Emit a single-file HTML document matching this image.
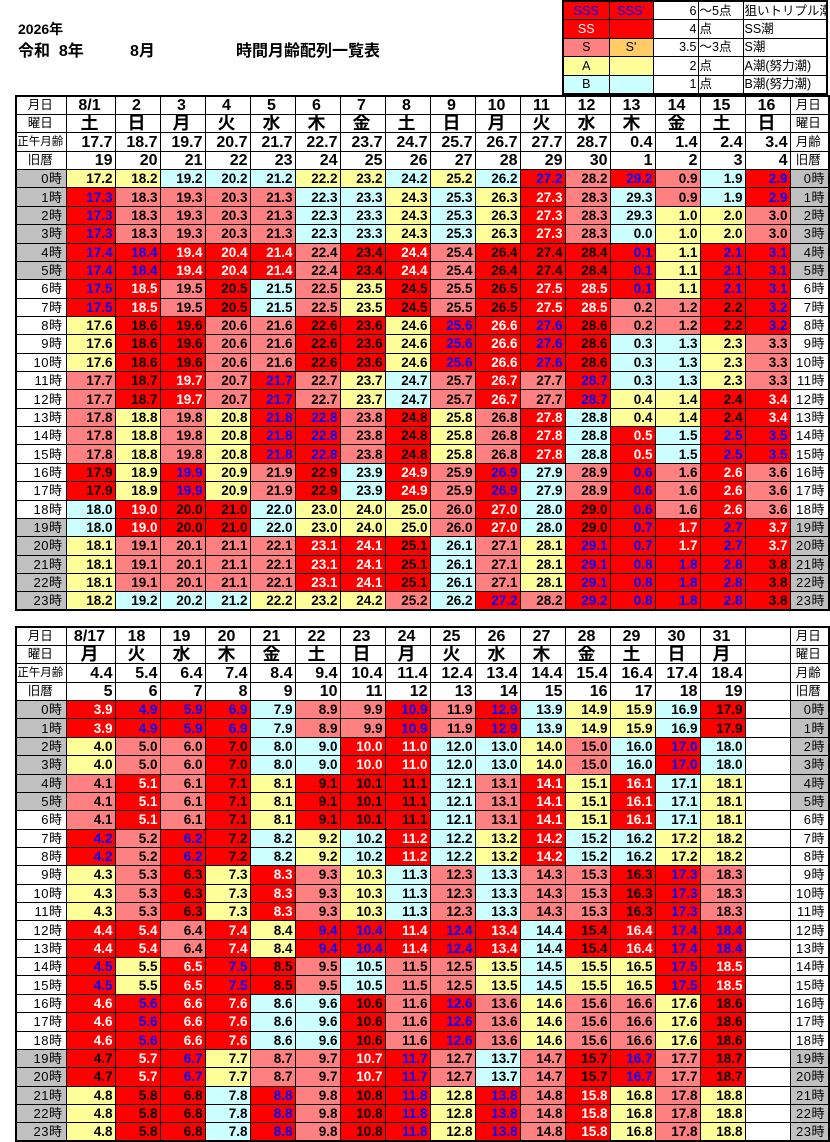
<!DOCTYPE html>
<html><head><meta charset="utf-8"><style>
body{margin:0;width:830px;height:1142px;background:#fff;position:relative;font-family:"Liberation Sans","Noto Sans CJK JP",sans-serif;overflow:hidden}
.tt{position:absolute;font-weight:bold;font-size:15px;color:#000;white-space:pre}
table{position:absolute;border-collapse:collapse;table-layout:fixed}
.t{left:15px;width:813px;border:2px solid #000}
.t td{border:1px solid #000;padding:0 2px 0 0;text-align:right;font-weight:bold;font-size:13.5px;line-height:15px;height:17px;overflow:hidden;white-space:nowrap}
.t tr{height:18.36px}
.t td.l{font-weight:normal;font-size:13px;text-align:right;padding-right:3px;letter-spacing:0.5px}
.t td.h{text-align:center;font-size:12.5px;font-weight:normal}
.t tr.dd td:not(.l):not(.h){text-align:center;font-size:16px}
.t tr.ww td:not(.h){text-align:center;font-size:18px}
.t tr.aa td:not(.h){font-size:16px}
.t tr.kk td:not(.h){font-size:16px}
.g{background:#c0c0c0}
.y{background:#ffff99}.b{background:#ccffff}.s{background:#ff8080}
.r{background:#ff0000}.w{background:#ff0000;color:#fff}.u{background:#ff0000;color:#0000ff}
.lg{left:562px;top:0;width:266px;border:2px solid #000}
.lg tr{height:18.6px}
.lg td{border:1px solid #000;font-size:12.5px;line-height:14px;padding:0 1px;white-space:nowrap;overflow:hidden}
</style></head><body>
<div class="tt" style="left:18px;top:19px;font-size:14px">2026年</div>
<div class="tt" style="left:18px;top:37px;font-size:16px">令和  8年</div>
<div class="tt" style="left:130px;top:37px;font-size:16px">8月</div>
<div class="tt" style="left:236px;top:37px;font-size:16px">時間月齢配列一覧表</div>

<table class="lg">
<colgroup><col style="width:46px"><col style="width:44px"><col style="width:45px"><col style="width:45px"><col></colgroup>
<tr><td style="background:#ff0000;color:#0000ff;text-align:center">SSS</td><td style="background:#ff0000;color:#0000ff;text-align:center">SSS'</td><td style="text-align:right">6</td><td>～5点</td><td>狙いトリプル潮</td></tr>
<tr><td style="background:#ff0000;color:#fff;text-align:center">SS</td><td style="background:#ff0000"></td><td style="text-align:right">4</td><td>点</td><td>SS潮</td></tr>
<tr><td style="background:#ff8080;text-align:center">S</td><td style="background:#ffcc66;text-align:center">S'</td><td style="text-align:right">3.5</td><td>～3点</td><td>S潮</td></tr>
<tr><td style="background:#ffff99;text-align:center">A</td><td style="background:#ffff99"></td><td style="text-align:right">2</td><td>点</td><td>A潮(努力潮)</td></tr>
<tr><td style="background:#ccffff;text-align:center">B</td><td style="background:#ccffff"></td><td style="text-align:right">1</td><td>点</td><td>B潮(努力潮)</td></tr>
</table>

<table class="t" style="top:95px">
<colgroup><col style="width:50px"><col style="width:49px"><col span="15" style="width:45px"><col style="width:39px"></colgroup>
<tr class="dd"><td class="h">月日</td><td>8/1</td><td>2</td><td>3</td><td>4</td><td>5</td><td>6</td><td>7</td><td>8</td><td>9</td><td>10</td><td>11</td><td>12</td><td>13</td><td>14</td><td>15</td><td>16</td><td class="h">月日</td></tr>
<tr class="ww"><td class="h">曜日</td><td>土</td><td>日</td><td>月</td><td>火</td><td>水</td><td>木</td><td>金</td><td>土</td><td>日</td><td>月</td><td>火</td><td>水</td><td>木</td><td>金</td><td>土</td><td>日</td><td class="h">曜日</td></tr>
<tr class="aa"><td class="h" style="font-size:11.5px">正午月齢</td><td>17.7</td><td>18.7</td><td>19.7</td><td>20.7</td><td>21.7</td><td>22.7</td><td>23.7</td><td>24.7</td><td>25.7</td><td>26.7</td><td>27.7</td><td>28.7</td><td>0.4</td><td>1.4</td><td>2.4</td><td>3.4</td><td class="h">月齢</td></tr>
<tr class="kk"><td class="h">旧暦</td><td>19</td><td>20</td><td>21</td><td>22</td><td>23</td><td>24</td><td>25</td><td>26</td><td>27</td><td>28</td><td>29</td><td>30</td><td>1</td><td>2</td><td>3</td><td>4</td><td class="h">旧暦</td></tr>
<tr><td class="l g">0時</td><td class=y>17.2<td class=y>18.2<td class=b>19.2<td class=b>20.2<td class=b>21.2<td class=y>22.2<td class=y>23.2<td class=b>24.2<td class=y>25.2<td class=b>26.2<td class=u>27.2<td class=s>28.2<td class=u>29.2<td class=s>0.9<td class=b>1.9<td class=u>2.9<td class="l g">0時</td></tr>
<tr><td class="l g">1時</td><td class=u>17.3<td class=s>18.3<td class=s>19.3<td class=s>20.3<td class=s>21.3<td class=b>22.3<td class=b>23.3<td class=y>24.3<td class=b>25.3<td class=y>26.3<td class=w>27.3<td class=s>28.3<td class=b>29.3<td class=s>0.9<td class=b>1.9<td class=u>2.9<td class="l g">1時</td></tr>
<tr><td class="l g">2時</td><td class=u>17.3<td class=s>18.3<td class=s>19.3<td class=s>20.3<td class=s>21.3<td class=b>22.3<td class=b>23.3<td class=y>24.3<td class=b>25.3<td class=y>26.3<td class=w>27.3<td class=s>28.3<td class=b>29.3<td class=y>1.0<td class=y>2.0<td class=s>3.0<td class="l g">2時</td></tr>
<tr><td class="l g">3時</td><td class=u>17.3<td class=s>18.3<td class=s>19.3<td class=s>20.3<td class=s>21.3<td class=b>22.3<td class=b>23.3<td class=y>24.3<td class=b>25.3<td class=y>26.3<td class=w>27.3<td class=s>28.3<td class=b>0.0<td class=y>1.0<td class=y>2.0<td class=s>3.0<td class="l g">3時</td></tr>
<tr><td class="l g">4時</td><td class=u>17.4<td class=u>18.4<td class=w>19.4<td class=w>20.4<td class=w>21.4<td class=s>22.4<td class=r>23.4<td class=w>24.4<td class=s>25.4<td class=r>26.4<td class=r>27.4<td class=r>28.4<td class=u>0.1<td class=y>1.1<td class=u>2.1<td class=u>3.1<td class="l g">4時</td></tr>
<tr><td class="l g">5時</td><td class=u>17.4<td class=u>18.4<td class=w>19.4<td class=w>20.4<td class=w>21.4<td class=s>22.4<td class=r>23.4<td class=w>24.4<td class=s>25.4<td class=r>26.4<td class=r>27.4<td class=r>28.4<td class=u>0.1<td class=y>1.1<td class=u>2.1<td class=u>3.1<td class="l g">5時</td></tr>
<tr><td class="l">6時</td><td class=u>17.5<td class=w>18.5<td class=s>19.5<td class=r>20.5<td class=b>21.5<td class=s>22.5<td class=y>23.5<td class=r>24.5<td class=s>25.5<td class=r>26.5<td class=w>27.5<td class=w>28.5<td class=u>0.1<td class=y>1.1<td class=u>2.1<td class=u>3.1<td class="l">6時</td></tr>
<tr><td class="l">7時</td><td class=u>17.5<td class=w>18.5<td class=s>19.5<td class=r>20.5<td class=b>21.5<td class=s>22.5<td class=y>23.5<td class=r>24.5<td class=s>25.5<td class=r>26.5<td class=w>27.5<td class=w>28.5<td class=s>0.2<td class=s>1.2<td class=r>2.2<td class=u>3.2<td class="l">7時</td></tr>
<tr><td class="l">8時</td><td class=y>17.6<td class=r>18.6<td class=r>19.6<td class=s>20.6<td class=s>21.6<td class=r>22.6<td class=r>23.6<td class=y>24.6<td class=u>25.6<td class=w>26.6<td class=u>27.6<td class=r>28.6<td class=s>0.2<td class=s>1.2<td class=r>2.2<td class=u>3.2<td class="l">8時</td></tr>
<tr><td class="l">9時</td><td class=y>17.6<td class=r>18.6<td class=r>19.6<td class=s>20.6<td class=s>21.6<td class=r>22.6<td class=r>23.6<td class=y>24.6<td class=u>25.6<td class=w>26.6<td class=u>27.6<td class=r>28.6<td class=b>0.3<td class=b>1.3<td class=y>2.3<td class=s>3.3<td class="l">9時</td></tr>
<tr><td class="l">10時</td><td class=y>17.6<td class=r>18.6<td class=r>19.6<td class=s>20.6<td class=s>21.6<td class=r>22.6<td class=r>23.6<td class=y>24.6<td class=u>25.6<td class=w>26.6<td class=u>27.6<td class=r>28.6<td class=b>0.3<td class=b>1.3<td class=y>2.3<td class=s>3.3<td class="l">10時</td></tr>
<tr><td class="l">11時</td><td class=s>17.7<td class=r>18.7<td class=w>19.7<td class=s>20.7<td class=u>21.7<td class=s>22.7<td class=y>23.7<td class=b>24.7<td class=s>25.7<td class=w>26.7<td class=s>27.7<td class=u>28.7<td class=b>0.3<td class=b>1.3<td class=y>2.3<td class=s>3.3<td class="l">11時</td></tr>
<tr><td class="l">12時</td><td class=s>17.7<td class=r>18.7<td class=w>19.7<td class=s>20.7<td class=u>21.7<td class=s>22.7<td class=y>23.7<td class=b>24.7<td class=s>25.7<td class=w>26.7<td class=s>27.7<td class=u>28.7<td class=y>0.4<td class=y>1.4<td class=r>2.4<td class=w>3.4<td class="l">12時</td></tr>
<tr><td class="l">13時</td><td class=s>17.8<td class=y>18.8<td class=s>19.8<td class=y>20.8<td class=u>21.8<td class=u>22.8<td class=s>23.8<td class=r>24.8<td class=y>25.8<td class=s>26.8<td class=w>27.8<td class=b>28.8<td class=y>0.4<td class=y>1.4<td class=r>2.4<td class=w>3.4<td class="l">13時</td></tr>
<tr><td class="l">14時</td><td class=s>17.8<td class=y>18.8<td class=s>19.8<td class=y>20.8<td class=u>21.8<td class=u>22.8<td class=s>23.8<td class=r>24.8<td class=y>25.8<td class=s>26.8<td class=w>27.8<td class=b>28.8<td class=w>0.5<td class=b>1.5<td class=u>2.5<td class=u>3.5<td class="l">14時</td></tr>
<tr><td class="l">15時</td><td class=s>17.8<td class=y>18.8<td class=s>19.8<td class=y>20.8<td class=u>21.8<td class=u>22.8<td class=s>23.8<td class=r>24.8<td class=y>25.8<td class=s>26.8<td class=w>27.8<td class=b>28.8<td class=w>0.5<td class=b>1.5<td class=u>2.5<td class=u>3.5<td class="l">15時</td></tr>
<tr><td class="l">16時</td><td class=r>17.9<td class=y>18.9<td class=u>19.9<td class=y>20.9<td class=s>21.9<td class=r>22.9<td class=b>23.9<td class=w>24.9<td class=s>25.9<td class=u>26.9<td class=b>27.9<td class=s>28.9<td class=u>0.6<td class=s>1.6<td class=w>2.6<td class=s>3.6<td class="l">16時</td></tr>
<tr><td class="l">17時</td><td class=r>17.9<td class=y>18.9<td class=u>19.9<td class=y>20.9<td class=s>21.9<td class=r>22.9<td class=b>23.9<td class=w>24.9<td class=s>25.9<td class=u>26.9<td class=b>27.9<td class=s>28.9<td class=u>0.6<td class=s>1.6<td class=w>2.6<td class=s>3.6<td class="l">17時</td></tr>
<tr><td class="l">18時</td><td class=b>18.0<td class=w>19.0<td class=r>20.0<td class=r>21.0<td class=b>22.0<td class=y>23.0<td class=y>24.0<td class=y>25.0<td class=s>26.0<td class=w>27.0<td class=b>28.0<td class=r>29.0<td class=u>0.6<td class=s>1.6<td class=w>2.6<td class=s>3.6<td class="l">18時</td></tr>
<tr><td class="l g">19時</td><td class=b>18.0<td class=w>19.0<td class=r>20.0<td class=r>21.0<td class=b>22.0<td class=y>23.0<td class=y>24.0<td class=y>25.0<td class=s>26.0<td class=w>27.0<td class=b>28.0<td class=r>29.0<td class=u>0.7<td class=w>1.7<td class=u>2.7<td class=w>3.7<td class="l g">19時</td></tr>
<tr><td class="l g">20時</td><td class=y>18.1<td class=s>19.1<td class=s>20.1<td class=s>21.1<td class=s>22.1<td class=w>23.1<td class=w>24.1<td class=r>25.1<td class=b>26.1<td class=s>27.1<td class=y>28.1<td class=u>29.1<td class=u>0.7<td class=w>1.7<td class=u>2.7<td class=w>3.7<td class="l g">20時</td></tr>
<tr><td class="l g">21時</td><td class=y>18.1<td class=s>19.1<td class=s>20.1<td class=s>21.1<td class=s>22.1<td class=w>23.1<td class=w>24.1<td class=r>25.1<td class=b>26.1<td class=s>27.1<td class=y>28.1<td class=u>29.1<td class=u>0.8<td class=u>1.8<td class=u>2.8<td class=r>3.8<td class="l g">21時</td></tr>
<tr><td class="l g">22時</td><td class=y>18.1<td class=s>19.1<td class=s>20.1<td class=s>21.1<td class=s>22.1<td class=w>23.1<td class=w>24.1<td class=r>25.1<td class=b>26.1<td class=s>27.1<td class=y>28.1<td class=u>29.1<td class=u>0.8<td class=u>1.8<td class=u>2.8<td class=r>3.8<td class="l g">22時</td></tr>
<tr><td class="l g">23時</td><td class=y>18.2<td class=b>19.2<td class=b>20.2<td class=b>21.2<td class=y>22.2<td class=y>23.2<td class=y>24.2<td class=s>25.2<td class=b>26.2<td class=u>27.2<td class=s>28.2<td class=u>29.2<td class=u>0.8<td class=u>1.8<td class=u>2.8<td class=r>3.8<td class="l g">23時</td></tr>
</table>

<table class="t" style="top:626px">
<colgroup><col style="width:50px"><col style="width:49px"><col span="15" style="width:45px"><col style="width:39px"></colgroup>
<tr class="dd"><td class="h">月日</td><td>8/17</td><td>18</td><td>19</td><td>20</td><td>21</td><td>22</td><td>23</td><td>24</td><td>25</td><td>26</td><td>27</td><td>28</td><td>29</td><td>30</td><td>31</td><td></td><td class="h">月日</td></tr>
<tr class="ww"><td class="h">曜日</td><td>月</td><td>火</td><td>水</td><td>木</td><td>金</td><td>土</td><td>日</td><td>月</td><td>火</td><td>水</td><td>木</td><td>金</td><td>土</td><td>日</td><td>月</td><td></td><td class="h">曜日</td></tr>
<tr class="aa"><td class="h" style="font-size:11.5px">正午月齢</td><td>4.4</td><td>5.4</td><td>6.4</td><td>7.4</td><td>8.4</td><td>9.4</td><td>10.4</td><td>11.4</td><td>12.4</td><td>13.4</td><td>14.4</td><td>15.4</td><td>16.4</td><td>17.4</td><td>18.4</td><td></td><td class="h">月齢</td></tr>
<tr class="kk"><td class="h">旧暦</td><td>5</td><td>6</td><td>7</td><td>8</td><td>9</td><td>10</td><td>11</td><td>12</td><td>13</td><td>14</td><td>15</td><td>16</td><td>17</td><td>18</td><td>19</td><td></td><td class="h">旧暦</td></tr>
<tr><td class="l g">0時</td><td class=w>3.9<td class=u>4.9<td class=u>5.9<td class=u>6.9<td class=b>7.9<td class=s>8.9<td class=s>9.9<td class=u>10.9<td class=s>11.9<td class=u>12.9<td class=b>13.9<td class=y>14.9<td class=y>15.9<td class=b>16.9<td class=r>17.9<td><td class="l g">0時</td></tr>
<tr><td class="l g">1時</td><td class=w>3.9<td class=u>4.9<td class=u>5.9<td class=u>6.9<td class=b>7.9<td class=s>8.9<td class=s>9.9<td class=u>10.9<td class=s>11.9<td class=u>12.9<td class=b>13.9<td class=y>14.9<td class=y>15.9<td class=b>16.9<td class=r>17.9<td><td class="l g">1時</td></tr>
<tr><td class="l g">2時</td><td class=y>4.0<td class=s>5.0<td class=s>6.0<td class=r>7.0<td class=b>8.0<td class=b>9.0<td class=w>10.0<td class=w>11.0<td class=b>12.0<td class=b>13.0<td class=y>14.0<td class=s>15.0<td class=b>16.0<td class=u>17.0<td class=b>18.0<td><td class="l g">2時</td></tr>
<tr><td class="l g">3時</td><td class=y>4.0<td class=s>5.0<td class=s>6.0<td class=r>7.0<td class=b>8.0<td class=b>9.0<td class=w>10.0<td class=w>11.0<td class=b>12.0<td class=b>13.0<td class=y>14.0<td class=s>15.0<td class=b>16.0<td class=u>17.0<td class=b>18.0<td><td class="l g">3時</td></tr>
<tr><td class="l g">4時</td><td class=s>4.1<td class=w>5.1<td class=s>6.1<td class=r>7.1<td class=y>8.1<td class=r>9.1<td class=r>10.1<td class=r>11.1<td class=b>12.1<td class=s>13.1<td class=w>14.1<td class=y>15.1<td class=w>16.1<td class=b>17.1<td class=y>18.1<td><td class="l g">4時</td></tr>
<tr><td class="l g">5時</td><td class=s>4.1<td class=w>5.1<td class=s>6.1<td class=r>7.1<td class=y>8.1<td class=r>9.1<td class=r>10.1<td class=r>11.1<td class=b>12.1<td class=s>13.1<td class=w>14.1<td class=y>15.1<td class=w>16.1<td class=b>17.1<td class=y>18.1<td><td class="l g">5時</td></tr>
<tr><td class="l">6時</td><td class=s>4.1<td class=w>5.1<td class=s>6.1<td class=r>7.1<td class=y>8.1<td class=r>9.1<td class=r>10.1<td class=r>11.1<td class=b>12.1<td class=s>13.1<td class=w>14.1<td class=y>15.1<td class=w>16.1<td class=b>17.1<td class=y>18.1<td><td class="l">6時</td></tr>
<tr><td class="l">7時</td><td class=u>4.2<td class=s>5.2<td class=u>6.2<td class=r>7.2<td class=b>8.2<td class=y>9.2<td class=b>10.2<td class=w>11.2<td class=b>12.2<td class=y>13.2<td class=w>14.2<td class=b>15.2<td class=b>16.2<td class=y>17.2<td class=y>18.2<td><td class="l">7時</td></tr>
<tr><td class="l">8時</td><td class=u>4.2<td class=s>5.2<td class=u>6.2<td class=r>7.2<td class=b>8.2<td class=y>9.2<td class=b>10.2<td class=w>11.2<td class=b>12.2<td class=y>13.2<td class=w>14.2<td class=b>15.2<td class=b>16.2<td class=y>17.2<td class=y>18.2<td><td class="l">8時</td></tr>
<tr><td class="l">9時</td><td class=y>4.3<td class=s>5.3<td class=r>6.3<td class=y>7.3<td class=w>8.3<td class=s>9.3<td class=y>10.3<td class=b>11.3<td class=s>12.3<td class=b>13.3<td class=s>14.3<td class=s>15.3<td class=r>16.3<td class=u>17.3<td class=s>18.3<td><td class="l">9時</td></tr>
<tr><td class="l">10時</td><td class=y>4.3<td class=s>5.3<td class=r>6.3<td class=y>7.3<td class=w>8.3<td class=s>9.3<td class=y>10.3<td class=b>11.3<td class=s>12.3<td class=b>13.3<td class=s>14.3<td class=s>15.3<td class=r>16.3<td class=u>17.3<td class=s>18.3<td><td class="l">10時</td></tr>
<tr><td class="l">11時</td><td class=y>4.3<td class=s>5.3<td class=r>6.3<td class=y>7.3<td class=w>8.3<td class=s>9.3<td class=y>10.3<td class=b>11.3<td class=s>12.3<td class=b>13.3<td class=s>14.3<td class=s>15.3<td class=r>16.3<td class=u>17.3<td class=s>18.3<td><td class="l">11時</td></tr>
<tr><td class="l">12時</td><td class=w>4.4<td class=w>5.4<td class=s>6.4<td class=w>7.4<td class=y>8.4<td class=u>9.4<td class=u>10.4<td class=w>11.4<td class=u>12.4<td class=w>13.4<td class=b>14.4<td class=r>15.4<td class=w>16.4<td class=u>17.4<td class=u>18.4<td><td class="l">12時</td></tr>
<tr><td class="l">13時</td><td class=w>4.4<td class=w>5.4<td class=s>6.4<td class=w>7.4<td class=y>8.4<td class=u>9.4<td class=u>10.4<td class=w>11.4<td class=u>12.4<td class=w>13.4<td class=b>14.4<td class=r>15.4<td class=w>16.4<td class=u>17.4<td class=u>18.4<td><td class="l">13時</td></tr>
<tr><td class="l">14時</td><td class=u>4.5<td class=y>5.5<td class=w>6.5<td class=u>7.5<td class=r>8.5<td class=s>9.5<td class=b>10.5<td class=s>11.5<td class=s>12.5<td class=y>13.5<td class=b>14.5<td class=y>15.5<td class=y>16.5<td class=u>17.5<td class=w>18.5<td><td class="l">14時</td></tr>
<tr><td class="l">15時</td><td class=u>4.5<td class=y>5.5<td class=w>6.5<td class=u>7.5<td class=r>8.5<td class=s>9.5<td class=b>10.5<td class=s>11.5<td class=s>12.5<td class=y>13.5<td class=b>14.5<td class=y>15.5<td class=y>16.5<td class=u>17.5<td class=w>18.5<td><td class="l">15時</td></tr>
<tr><td class="l">16時</td><td class=w>4.6<td class=u>5.6<td class=w>6.6<td class=w>7.6<td class=b>8.6<td class=b>9.6<td class=r>10.6<td class=s>11.6<td class=u>12.6<td class=s>13.6<td class=y>14.6<td class=s>15.6<td class=s>16.6<td class=y>17.6<td class=r>18.6<td><td class="l">16時</td></tr>
<tr><td class="l">17時</td><td class=w>4.6<td class=u>5.6<td class=w>6.6<td class=w>7.6<td class=b>8.6<td class=b>9.6<td class=r>10.6<td class=s>11.6<td class=u>12.6<td class=s>13.6<td class=y>14.6<td class=s>15.6<td class=s>16.6<td class=y>17.6<td class=r>18.6<td><td class="l">17時</td></tr>
<tr><td class="l">18時</td><td class=w>4.6<td class=u>5.6<td class=w>6.6<td class=w>7.6<td class=b>8.6<td class=b>9.6<td class=r>10.6<td class=s>11.6<td class=u>12.6<td class=s>13.6<td class=y>14.6<td class=s>15.6<td class=s>16.6<td class=y>17.6<td class=r>18.6<td><td class="l">18時</td></tr>
<tr><td class="l g">19時</td><td class=r>4.7<td class=w>5.7<td class=u>6.7<td class=y>7.7<td class=s>8.7<td class=s>9.7<td class=w>10.7<td class=u>11.7<td class=s>12.7<td class=b>13.7<td class=s>14.7<td class=r>15.7<td class=u>16.7<td class=s>17.7<td class=r>18.7<td><td class="l g">19時</td></tr>
<tr><td class="l g">20時</td><td class=r>4.7<td class=w>5.7<td class=u>6.7<td class=y>7.7<td class=s>8.7<td class=s>9.7<td class=w>10.7<td class=u>11.7<td class=s>12.7<td class=b>13.7<td class=s>14.7<td class=r>15.7<td class=u>16.7<td class=s>17.7<td class=r>18.7<td><td class="l g">20時</td></tr>
<tr><td class="l g">21時</td><td class=y>4.8<td class=r>5.8<td class=r>6.8<td class=b>7.8<td class=u>8.8<td class=s>9.8<td class=r>10.8<td class=u>11.8<td class=y>12.8<td class=u>13.8<td class=s>14.8<td class=w>15.8<td class=y>16.8<td class=s>17.8<td class=y>18.8<td><td class="l g">21時</td></tr>
<tr><td class="l g">22時</td><td class=y>4.8<td class=r>5.8<td class=r>6.8<td class=b>7.8<td class=u>8.8<td class=s>9.8<td class=r>10.8<td class=u>11.8<td class=y>12.8<td class=u>13.8<td class=s>14.8<td class=w>15.8<td class=y>16.8<td class=s>17.8<td class=y>18.8<td><td class="l g">22時</td></tr>
<tr><td class="l g">23時</td><td class=y>4.8<td class=r>5.8<td class=r>6.8<td class=b>7.8<td class=u>8.8<td class=s>9.8<td class=r>10.8<td class=u>11.8<td class=y>12.8<td class=u>13.8<td class=s>14.8<td class=w>15.8<td class=y>16.8<td class=s>17.8<td class=y>18.8<td><td class="l g">23時</td></tr>
</table>
</body></html>
